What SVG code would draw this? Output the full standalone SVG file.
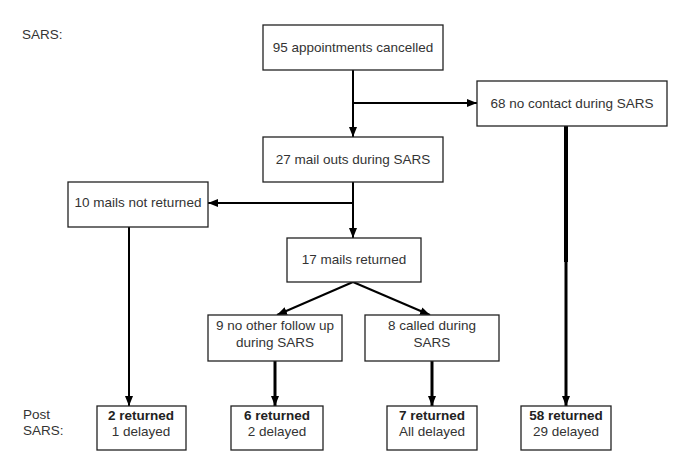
<svg xmlns="http://www.w3.org/2000/svg" width="685" height="467" viewBox="0 0 685 467">
<defs>
<marker id="ah" markerUnits="userSpaceOnUse" markerWidth="10" markerHeight="10" viewBox="0 0 10 10" refX="10" refY="5" orient="auto">
<path d="M0,1 L10,5 L0,9 Z" fill="#000"/>
</marker>
</defs>
<style>
.box{fill:#fff;stroke:#222;stroke-width:1.3}
.t{font-family:"Liberation Sans",Arial,sans-serif;font-size:13.5px;fill:#333;text-anchor:middle}
.lab{font-family:"Liberation Sans",Arial,sans-serif;font-size:13.5px;fill:#333}
.b{font-weight:bold;fill:#222}
.c{stroke:#000;stroke-width:2;fill:none}
.ct{stroke:#000;stroke-width:3;fill:none}
</style>
<rect width="685" height="467" fill="#fff"/>
<text class="lab" x="22" y="39">SARS:</text>
<text class="lab" x="23" y="419">Post</text>
<text class="lab" x="23" y="435">SARS:</text>
<g id="connectors">
<path class="c" d="M353,70 V137" marker-end="url(#ah)"/>
<path class="c" d="M353,103 H477" marker-end="url(#ah)"/>
<path class="c" d="M353,182 V238" marker-end="url(#ah)"/>
<path class="c" d="M353,203 H208" marker-end="url(#ah)"/>
<path class="c" d="M353,282 L277,315" marker-end="url(#ah)"/>
<path class="c" d="M353,282 L430,315" marker-end="url(#ah)"/>
<path class="c" d="M129,227 V406" marker-end="url(#ah)"/>
<path class="ct" d="M275,361 V406" marker-end="url(#ah)"/>
<path class="ct" d="M432,361 V406" marker-end="url(#ah)"/>
<path class="ct" d="M566,126 V406" marker-end="url(#ah)"/>
<path stroke="#000" stroke-width="4" d="M566,126 V262"/>
</g>
<g id="n95"><rect class="box" x="263" y="25" width="180" height="45"/><text class="t" x="353" y="52">95 appointments cancelled</text></g>
<g id="n68"><rect class="box" x="477" y="81" width="190" height="45"/><text class="t" x="572" y="108">68 no contact during SARS</text></g>
<g id="n27"><rect class="box" x="263" y="137" width="180" height="45"/><text class="t" x="353" y="164">27 mail outs during SARS</text></g>
<g id="n10"><rect class="box" x="68" y="182" width="140" height="45"/><text class="t" x="138" y="207">10 mails not returned</text></g>
<g id="n17"><rect class="box" x="287" y="238" width="134" height="44"/><text class="t" x="354" y="264">17 mails returned</text></g>
<g id="n9"><rect class="box" x="208" y="315" width="134" height="46"/><text class="t" x="275" y="330">9 no other follow up</text><text class="t" x="275" y="347">during SARS</text></g>
<g id="n8"><rect class="box" x="365" y="315" width="134" height="46"/><text class="t" x="432" y="330">8 called during</text><text class="t" x="432" y="347">SARS</text></g>
<g id="r2"><rect class="box" x="97" y="406" width="89" height="44"/><text class="t b" x="141" y="420">2 returned</text><text class="t" x="141" y="436">1 delayed</text></g>
<g id="r6"><rect class="box" x="231" y="406" width="92" height="44"/><text class="t b" x="277" y="420">6 returned</text><text class="t" x="277" y="436">2 delayed</text></g>
<g id="r7"><rect class="box" x="387" y="406" width="90" height="44"/><text class="t b" x="432" y="420">7 returned</text><text class="t" x="432" y="436">All delayed</text></g>
<g id="r58"><rect class="box" x="521" y="406" width="90" height="44"/><text class="t b" x="566" y="420">58 returned</text><text class="t" x="566" y="436">29 delayed</text></g>
</svg>
